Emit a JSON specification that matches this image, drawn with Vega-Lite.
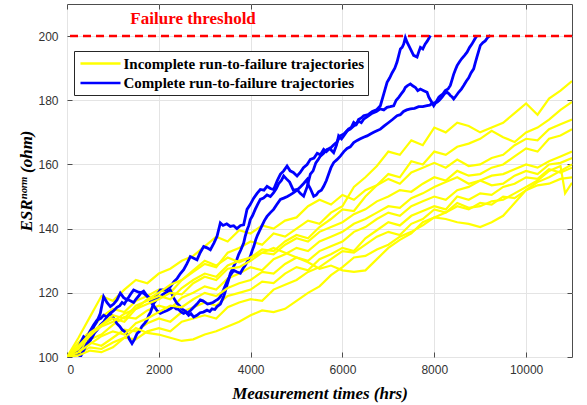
{
"$schema": "https://vega.github.io/schema/vega-lite/v6.json",
"width": 505, "height": 353,
"autosize": "none",
"padding": {"left": 67, "top": 4, "right": 15, "bottom": 48},
"background": "white",
"config": {
 "view": {"stroke": "#4d4d4d", "strokeWidth": 1},
 "axis": {"labelFont": "Liberation Sans", "labelFontSize": 12, "labelColor": "#333333", "domain": false, "gridColor": "#e4e4e4", "gridWidth": 1, "tickColor": "#4d4d4d", "tickSize": -5, "tickWidth": 1, "titleFont": "Liberation Serif", "titleFontSize": 17, "titleFontWeight": "bold", "titleFontStyle": "italic", "titleColor": "#000000", "format": "d"}
},
"datasets": {
"blue": [
{"s":"B1","t":"C","x":0,"y":100},{"s":"B1","t":"C","x":145,"y":101.5},{"s":"B1","t":"C","x":290,"y":103.1},{"s":"B1","t":"C","x":436,"y":106.3},{"s":"B1","t":"C","x":510,"y":105.5},{"s":"B1","t":"C","x":580,"y":109.4},{"s":"B1","t":"C","x":650,"y":111},{"s":"B1","t":"C","x":726,"y":113.6},{"s":"B1","t":"C","x":798,"y":118.8},{"s":"B1","t":"C","x":870,"y":117},{"s":"B1","t":"C","x":944,"y":115.7},{"s":"B1","t":"C","x":1015,"y":116.5},{"s":"B1","t":"C","x":1089,"y":117.8},{"s":"B1","t":"C","x":1161,"y":119.9},{"s":"B1","t":"C","x":1234,"y":118.5},{"s":"B1","t":"C","x":1307,"y":117.8},{"s":"B1","t":"C","x":1380,"y":119.5},{"s":"B1","t":"C","x":1451,"y":120.9},{"s":"B1","t":"C","x":1560,"y":120.2},{"s":"B1","t":"C","x":1669,"y":119.9},{"s":"B1","t":"C","x":1780,"y":118.5},{"s":"B1","t":"C","x":1887,"y":117.8},{"s":"B1","t":"C","x":1960,"y":119.5},{"s":"B1","t":"C","x":2033,"y":120.9},{"s":"B1","t":"C","x":2150,"y":121},{"s":"B1","t":"C","x":2250,"y":121.9},{"s":"B1","t":"C","x":2330,"y":123.5},{"s":"B1","t":"C","x":2400,"y":124.5},{"s":"B1","t":"C","x":2470,"y":126},{"s":"B1","t":"C","x":2541,"y":127.2},{"s":"B1","t":"C","x":2610,"y":129},{"s":"B1","t":"C","x":2686,"y":131.3},{"s":"B1","t":"C","x":2760,"y":130.8},{"s":"B1","t":"C","x":2832,"y":130.3},{"s":"B1","t":"C","x":2900,"y":132.5},{"s":"B1","t":"C","x":2977,"y":134.4},{"s":"B1","t":"C","x":3050,"y":134},{"s":"B1","t":"C","x":3122,"y":133.4},{"s":"B1","t":"C","x":3200,"y":135.5},{"s":"B1","t":"C","x":3268,"y":137.6},{"s":"B1","t":"C","x":3340,"y":141.8},{"s":"B1","t":"C","x":3400,"y":141},{"s":"B1","t":"C","x":3480,"y":141.5},{"s":"B1","t":"C","x":3558,"y":140.7},{"s":"B1","t":"C","x":3630,"y":140.9},{"s":"B1","t":"C","x":3700,"y":140},{"s":"B1","t":"C","x":3780,"y":141},{"s":"B1","t":"C","x":3848,"y":141.2},{"s":"B1","t":"C","x":3921,"y":146},{"s":"B1","t":"C","x":3990,"y":147.5},{"s":"B1","t":"C","x":4066,"y":149.5},{"s":"B1","t":"C","x":4140,"y":151},{"s":"B1","t":"C","x":4211,"y":152.2},{"s":"B1","t":"C","x":4290,"y":152},{"s":"B1","t":"C","x":4357,"y":153.2},{"s":"B1","t":"C","x":4430,"y":152.5},{"s":"B1","t":"C","x":4501,"y":152.2},{"s":"B1","t":"C","x":4580,"y":155},{"s":"B1","t":"C","x":4650,"y":157},{"s":"B1","t":"C","x":4720,"y":158},{"s":"B1","t":"C","x":4793,"y":159.5},{"s":"B1","t":"C","x":4860,"y":158},{"s":"B1","t":"C","x":4930,"y":157.5},{"s":"B1","t":"C","x":5011,"y":156.4},{"s":"B1","t":"C","x":5080,"y":157.5},{"s":"B1","t":"C","x":5150,"y":159},{"s":"B1","t":"C","x":5230,"y":160},{"s":"B1","t":"C","x":5301,"y":161.6},{"s":"B1","t":"C","x":5380,"y":162},{"s":"B1","t":"C","x":5450,"y":163.5},{"s":"B1","t":"C","x":5520,"y":163},{"s":"B1","t":"C","x":5591,"y":164.7},{"s":"B1","t":"C","x":5650,"y":164},{"s":"B1","t":"C","x":5720,"y":165},{"s":"B1","t":"C","x":5809,"y":163.7},{"s":"B1","t":"C","x":5870,"y":166},{"s":"B1","t":"C","x":5917,"y":168.9},{"s":"B1","t":"C","x":5980,"y":168},{"s":"B1","t":"C","x":6027,"y":168.9},{"s":"B1","t":"C","x":6080,"y":170},{"s":"B1","t":"C","x":6130,"y":171},{"s":"B1","t":"C","x":6190,"y":171.5},{"s":"B1","t":"C","x":6245,"y":173.1},{"s":"B1","t":"C","x":6300,"y":172.5},{"s":"B1","t":"C","x":6350,"y":174},{"s":"B1","t":"C","x":6410,"y":174.5},{"s":"B1","t":"C","x":6462,"y":175.2},{"s":"B1","t":"C","x":6560,"y":175.5},{"s":"B1","t":"C","x":6650,"y":176.5},{"s":"B1","t":"C","x":6740,"y":177},{"s":"B1","t":"C","x":6826,"y":178.3},{"s":"B1","t":"C","x":6900,"y":182},{"s":"B1","t":"C","x":6972,"y":185.6},{"s":"B1","t":"C","x":7030,"y":187},{"s":"B1","t":"C","x":7080,"y":188.5},{"s":"B1","t":"C","x":7140,"y":190},{"s":"B1","t":"C","x":7189,"y":191.9},{"s":"B1","t":"C","x":7262,"y":196},{"s":"B1","t":"C","x":7300,"y":196.5},{"s":"B1","t":"C","x":7334,"y":197.5},{"s":"B1","t":"C","x":7370,"y":199.5},{"s":"B1","t":"C","x":7407,"y":198.1},{"s":"B1","t":"C","x":7445,"y":197},{"s":"B1","t":"C","x":7480,"y":196},{"s":"B1","t":"C","x":7550,"y":194},{"s":"B1","t":"C","x":7625,"y":193.5},{"s":"B1","t":"C","x":7660,"y":195},{"s":"B1","t":"C","x":7698,"y":196.5},{"s":"B1","t":"C","x":7750,"y":196},{"s":"B1","t":"C","x":7800,"y":197.5},{"s":"B1","t":"C","x":7850,"y":198.5},{"s":"B1","t":"C","x":7916,"y":200.2},
{"s":"B2","t":"C","x":0,"y":100},{"s":"B2","t":"C","x":145,"y":100.2},{"s":"B2","t":"C","x":250,"y":103},{"s":"B2","t":"C","x":362,"y":106.3},{"s":"B2","t":"C","x":430,"y":105.5},{"s":"B2","t":"C","x":500,"y":108},{"s":"B2","t":"C","x":580,"y":110},{"s":"B2","t":"C","x":654,"y":111.5},{"s":"B2","t":"C","x":730,"y":112},{"s":"B2","t":"C","x":800,"y":113},{"s":"B2","t":"C","x":870,"y":112.5},{"s":"B2","t":"C","x":944,"y":113.6},{"s":"B2","t":"C","x":1020,"y":114.5},{"s":"B2","t":"C","x":1089,"y":115.5},{"s":"B2","t":"C","x":1150,"y":116},{"s":"B2","t":"C","x":1200,"y":117},{"s":"B2","t":"C","x":1250,"y":116.5},{"s":"B2","t":"C","x":1307,"y":118},{"s":"B2","t":"C","x":1380,"y":117.5},{"s":"B2","t":"C","x":1451,"y":117},{"s":"B2","t":"C","x":1500,"y":118},{"s":"B2","t":"C","x":1560,"y":119},{"s":"B2","t":"C","x":1610,"y":120},{"s":"B2","t":"C","x":1669,"y":120.5},{"s":"B2","t":"C","x":1720,"y":119.5},{"s":"B2","t":"C","x":1780,"y":118.5},{"s":"B2","t":"C","x":1830,"y":117},{"s":"B2","t":"C","x":1887,"y":116},{"s":"B2","t":"C","x":1960,"y":114.5},{"s":"B2","t":"C","x":2033,"y":113.6},{"s":"B2","t":"C","x":2100,"y":114},{"s":"B2","t":"C","x":2180,"y":114.5},{"s":"B2","t":"C","x":2250,"y":115},{"s":"B2","t":"C","x":2323,"y":115.7},{"s":"B2","t":"C","x":2380,"y":115},{"s":"B2","t":"C","x":2430,"y":114.8},{"s":"B2","t":"C","x":2490,"y":114},{"s":"B2","t":"C","x":2541,"y":113.6},{"s":"B2","t":"C","x":2600,"y":114},{"s":"B2","t":"C","x":2650,"y":113},{"s":"B2","t":"C","x":2700,"y":113.5},{"s":"B2","t":"C","x":2759,"y":112.5},{"s":"B2","t":"C","x":2830,"y":113},{"s":"B2","t":"C","x":2900,"y":113.8},{"s":"B2","t":"C","x":2970,"y":114},{"s":"B2","t":"C","x":3050,"y":114.6},{"s":"B2","t":"C","x":3110,"y":114.2},{"s":"B2","t":"C","x":3160,"y":115},{"s":"B2","t":"C","x":3220,"y":114.8},{"s":"B2","t":"C","x":3268,"y":115.7},{"s":"B2","t":"C","x":3340,"y":116.5},{"s":"B2","t":"C","x":3412,"y":118.8},{"s":"B2","t":"C","x":3450,"y":120.5},{"s":"B2","t":"C","x":3486,"y":122.5},{"s":"B2","t":"C","x":3520,"y":124},{"s":"B2","t":"C","x":3558,"y":126.1},{"s":"B2","t":"C","x":3590,"y":127},{"s":"B2","t":"C","x":3630,"y":128.2},{"s":"B2","t":"C","x":3690,"y":130},{"s":"B2","t":"C","x":3740,"y":132},{"s":"B2","t":"C","x":3790,"y":133.5},{"s":"B2","t":"C","x":3848,"y":135.5},{"s":"B2","t":"C","x":3880,"y":137.5},{"s":"B2","t":"C","x":3920,"y":139.5},{"s":"B2","t":"C","x":3960,"y":141},{"s":"B2","t":"C","x":3993,"y":142.8},{"s":"B2","t":"C","x":4040,"y":144},{"s":"B2","t":"C","x":4100,"y":146},{"s":"B2","t":"C","x":4150,"y":147.5},{"s":"B2","t":"C","x":4211,"y":149.1},{"s":"B2","t":"C","x":4280,"y":149.5},{"s":"B2","t":"C","x":4357,"y":150.5},{"s":"B2","t":"C","x":4430,"y":150},{"s":"B2","t":"C","x":4501,"y":151.2},{"s":"B2","t":"C","x":4560,"y":152.5},{"s":"B2","t":"C","x":4610,"y":154},{"s":"B2","t":"C","x":4670,"y":155},{"s":"B2","t":"C","x":4720,"y":156.4},{"s":"B2","t":"C","x":4780,"y":155.5},{"s":"B2","t":"C","x":4850,"y":154.5},{"s":"B2","t":"C","x":4930,"y":152},{"s":"B2","t":"C","x":5011,"y":152.2},{"s":"B2","t":"C","x":5080,"y":151},{"s":"B2","t":"C","x":5155,"y":150.1},{"s":"B2","t":"C","x":5230,"y":153},{"s":"B2","t":"C","x":5301,"y":157},{"s":"B2","t":"C","x":5360,"y":158},{"s":"B2","t":"C","x":5420,"y":160.5},{"s":"B2","t":"C","x":5470,"y":161.5},{"s":"B2","t":"C","x":5519,"y":162.6},{"s":"B2","t":"C","x":5590,"y":163.5},{"s":"B2","t":"C","x":5664,"y":164.7},{"s":"B2","t":"C","x":5730,"y":165},{"s":"B2","t":"C","x":5800,"y":166},{"s":"B2","t":"C","x":5880,"y":167},{"s":"B2","t":"C","x":5954,"y":168.9},{"s":"B2","t":"C","x":6030,"y":169.5},{"s":"B2","t":"C","x":6100,"y":170.5},{"s":"B2","t":"C","x":6170,"y":171},{"s":"B2","t":"C","x":6245,"y":172},{"s":"B2","t":"C","x":6300,"y":172.5},{"s":"B2","t":"C","x":6350,"y":173.5},{"s":"B2","t":"C","x":6410,"y":173},{"s":"B2","t":"C","x":6462,"y":174.1},{"s":"B2","t":"C","x":6550,"y":175},{"s":"B2","t":"C","x":6650,"y":176},{"s":"B2","t":"C","x":6740,"y":176.5},{"s":"B2","t":"C","x":6826,"y":177.3},{"s":"B2","t":"C","x":6900,"y":177},{"s":"B2","t":"C","x":6970,"y":177.8},{"s":"B2","t":"C","x":7040,"y":178},{"s":"B2","t":"C","x":7116,"y":178.3},{"s":"B2","t":"C","x":7170,"y":180},{"s":"B2","t":"C","x":7230,"y":181},{"s":"B2","t":"C","x":7280,"y":182},{"s":"B2","t":"C","x":7334,"y":183},{"s":"B2","t":"C","x":7370,"y":184},{"s":"B2","t":"C","x":7410,"y":184.5},{"s":"B2","t":"C","x":7480,"y":185.1},{"s":"B2","t":"C","x":7530,"y":184.5},{"s":"B2","t":"C","x":7590,"y":184},{"s":"B2","t":"C","x":7640,"y":183},{"s":"B2","t":"C","x":7698,"y":183.5},{"s":"B2","t":"C","x":7770,"y":183},{"s":"B2","t":"C","x":7843,"y":182.5},{"s":"B2","t":"C","x":7880,"y":181},{"s":"B2","t":"C","x":7920,"y":180},{"s":"B2","t":"C","x":7988,"y":178.3},{"s":"B2","t":"C","x":8020,"y":179},{"s":"B2","t":"C","x":8061,"y":180},{"s":"B2","t":"C","x":8100,"y":181},{"s":"B2","t":"C","x":8132,"y":181.4},{"s":"B2","t":"C","x":8190,"y":182},{"s":"B2","t":"C","x":8240,"y":183},{"s":"B2","t":"C","x":8300,"y":183.5},{"s":"B2","t":"C","x":8350,"y":184.6},{"s":"B2","t":"C","x":8390,"y":186.5},{"s":"B2","t":"C","x":8420,"y":188},{"s":"B2","t":"C","x":8460,"y":189.5},{"s":"B2","t":"C","x":8497,"y":190.8},{"s":"B2","t":"C","x":8550,"y":192},{"s":"B2","t":"C","x":8600,"y":193},{"s":"B2","t":"C","x":8660,"y":194},{"s":"B2","t":"C","x":8714,"y":195},{"s":"B2","t":"C","x":8770,"y":196.5},{"s":"B2","t":"C","x":8820,"y":197.5},{"s":"B2","t":"C","x":8880,"y":199},{"s":"B2","t":"C","x":8932,"y":200.2},
{"s":"B3","t":"C","x":0,"y":100},{"s":"B3","t":"C","x":145,"y":100.5},{"s":"B3","t":"C","x":220,"y":101.5},{"s":"B3","t":"C","x":290,"y":100},{"s":"B3","t":"C","x":360,"y":102},{"s":"B3","t":"C","x":436,"y":104.2},{"s":"B3","t":"C","x":490,"y":105},{"s":"B3","t":"C","x":545,"y":106},{"s":"B3","t":"C","x":600,"y":107.5},{"s":"B3","t":"C","x":654,"y":108.4},{"s":"B3","t":"C","x":730,"y":110},{"s":"B3","t":"C","x":800,"y":111},{"s":"B3","t":"C","x":870,"y":112.5},{"s":"B3","t":"C","x":944,"y":113.6},{"s":"B3","t":"C","x":1020,"y":112},{"s":"B3","t":"C","x":1089,"y":110.4},{"s":"B3","t":"C","x":1150,"y":109.5},{"s":"B3","t":"C","x":1200,"y":108.5},{"s":"B3","t":"C","x":1250,"y":108},{"s":"B3","t":"C","x":1307,"y":107.3},{"s":"B3","t":"C","x":1360,"y":105.5},{"s":"B3","t":"C","x":1416,"y":104.2},{"s":"B3","t":"C","x":1470,"y":105.5},{"s":"B3","t":"C","x":1525,"y":107.3},{"s":"B3","t":"C","x":1580,"y":108},{"s":"B3","t":"C","x":1630,"y":109.5},{"s":"B3","t":"C","x":1690,"y":110.5},{"s":"B3","t":"C","x":1743,"y":111.5},{"s":"B3","t":"C","x":1780,"y":113},{"s":"B3","t":"C","x":1820,"y":114},{"s":"B3","t":"C","x":1887,"y":116.7},{"s":"B3","t":"C","x":1960,"y":118},{"s":"B3","t":"C","x":2033,"y":118.8},{"s":"B3","t":"C","x":2090,"y":119.5},{"s":"B3","t":"C","x":2140,"y":120},{"s":"B3","t":"C","x":2200,"y":120.5},{"s":"B3","t":"C","x":2250,"y":120.9},{"s":"B3","t":"C","x":2290,"y":119.5},{"s":"B3","t":"C","x":2320,"y":118.5},{"s":"B3","t":"C","x":2396,"y":116.7},{"s":"B3","t":"C","x":2450,"y":116},{"s":"B3","t":"C","x":2500,"y":115},{"s":"B3","t":"C","x":2560,"y":114.5},{"s":"B3","t":"C","x":2614,"y":113.6},{"s":"B3","t":"C","x":2690,"y":114.5},{"s":"B3","t":"C","x":2760,"y":115.5},{"s":"B3","t":"C","x":2830,"y":116.5},{"s":"B3","t":"C","x":2904,"y":117.8},{"s":"B3","t":"C","x":2960,"y":117.5},{"s":"B3","t":"C","x":3010,"y":117},{"s":"B3","t":"C","x":3060,"y":116.5},{"s":"B3","t":"C","x":3122,"y":116.7},{"s":"B3","t":"C","x":3180,"y":117},{"s":"B3","t":"C","x":3230,"y":117.5},{"s":"B3","t":"C","x":3290,"y":118},{"s":"B3","t":"C","x":3340,"y":118.8},{"s":"B3","t":"C","x":3412,"y":121},{"s":"B3","t":"C","x":3486,"y":123.5},{"s":"B3","t":"C","x":3558,"y":125.5},{"s":"B3","t":"C","x":3630,"y":127},{"s":"B3","t":"C","x":3704,"y":126.5},{"s":"B3","t":"C","x":3776,"y":126.1},{"s":"B3","t":"C","x":3830,"y":127.5},{"s":"B3","t":"C","x":3880,"y":128.5},{"s":"B3","t":"C","x":3940,"y":130},{"s":"B3","t":"C","x":3993,"y":131.3},{"s":"B3","t":"C","x":4030,"y":133},{"s":"B3","t":"C","x":4070,"y":134.5},{"s":"B3","t":"C","x":4110,"y":136.5},{"s":"B3","t":"C","x":4150,"y":138},{"s":"B3","t":"C","x":4200,"y":139.5},{"s":"B3","t":"C","x":4250,"y":141},{"s":"B3","t":"C","x":4300,"y":142.5},{"s":"B3","t":"C","x":4357,"y":143.8},{"s":"B3","t":"C","x":4430,"y":145},{"s":"B3","t":"C","x":4500,"y":146},{"s":"B3","t":"C","x":4570,"y":147.5},{"s":"B3","t":"C","x":4648,"y":149.1},{"s":"B3","t":"C","x":4720,"y":149.5},{"s":"B3","t":"C","x":4800,"y":150},{"s":"B3","t":"C","x":4870,"y":150.6},{"s":"B3","t":"C","x":4937,"y":151.2},{"s":"B3","t":"C","x":5010,"y":152},{"s":"B3","t":"C","x":5083,"y":153},{"s":"B3","t":"C","x":5150,"y":154},{"s":"B3","t":"C","x":5229,"y":155.3},{"s":"B3","t":"C","x":5260,"y":153.5},{"s":"B3","t":"C","x":5300,"y":152.5},{"s":"B3","t":"C","x":5374,"y":150.1},{"s":"B3","t":"C","x":5430,"y":150.5},{"s":"B3","t":"C","x":5480,"y":151.5},{"s":"B3","t":"C","x":5540,"y":152},{"s":"B3","t":"C","x":5591,"y":153.2},{"s":"B3","t":"C","x":5650,"y":155},{"s":"B3","t":"C","x":5700,"y":157},{"s":"B3","t":"C","x":5750,"y":159},{"s":"B3","t":"C","x":5809,"y":160.6},{"s":"B3","t":"C","x":5880,"y":161.5},{"s":"B3","t":"C","x":5954,"y":162.6},{"s":"B3","t":"C","x":6030,"y":164},{"s":"B3","t":"C","x":6100,"y":165},{"s":"B3","t":"C","x":6170,"y":165.5},{"s":"B3","t":"C","x":6245,"y":166.8},{"s":"B3","t":"C","x":6320,"y":167.5},{"s":"B3","t":"C","x":6390,"y":168},{"s":"B3","t":"C","x":6460,"y":168.5},{"s":"B3","t":"C","x":6536,"y":168.9},{"s":"B3","t":"C","x":6610,"y":169.5},{"s":"B3","t":"C","x":6680,"y":170},{"s":"B3","t":"C","x":6750,"y":170.5},{"s":"B3","t":"C","x":6826,"y":171},{"s":"B3","t":"C","x":6910,"y":172},{"s":"B3","t":"C","x":7000,"y":173},{"s":"B3","t":"C","x":7090,"y":174},{"s":"B3","t":"C","x":7189,"y":175.2},{"s":"B3","t":"C","x":7260,"y":175.5},{"s":"B3","t":"C","x":7330,"y":176.5},{"s":"B3","t":"C","x":7400,"y":177},{"s":"B3","t":"C","x":7480,"y":177.3},{"s":"B3","t":"C","x":7570,"y":177.5},{"s":"B3","t":"C","x":7660,"y":178},{"s":"B3","t":"C","x":7750,"y":178},{"s":"B3","t":"C","x":7843,"y":178.3},{"s":"B3","t":"C","x":7900,"y":178.5},{"s":"B3","t":"C","x":7950,"y":179},{"s":"B3","t":"C","x":8000,"y":179.2},{"s":"B3","t":"C","x":8061,"y":179.4},{"s":"B3","t":"C","x":8110,"y":180},{"s":"B3","t":"C","x":8170,"y":181},{"s":"B3","t":"C","x":8220,"y":182},{"s":"B3","t":"C","x":8279,"y":182.5},{"s":"B3","t":"C","x":8320,"y":182},{"s":"B3","t":"C","x":8350,"y":181.5},{"s":"B3","t":"C","x":8390,"y":181},{"s":"B3","t":"C","x":8423,"y":180.4},{"s":"B3","t":"C","x":8480,"y":181.5},{"s":"B3","t":"C","x":8530,"y":182.5},{"s":"B3","t":"C","x":8590,"y":183.5},{"s":"B3","t":"C","x":8641,"y":184.6},{"s":"B3","t":"C","x":8700,"y":186},{"s":"B3","t":"C","x":8750,"y":187},{"s":"B3","t":"C","x":8800,"y":188.5},{"s":"B3","t":"C","x":8858,"y":189.8},{"s":"B3","t":"C","x":8890,"y":191.5},{"s":"B3","t":"C","x":8930,"y":193.5},{"s":"B3","t":"C","x":8970,"y":195.5},{"s":"B3","t":"C","x":9004,"y":197.1},{"s":"B3","t":"C","x":9060,"y":198},{"s":"B3","t":"C","x":9110,"y":198.5},{"s":"B3","t":"C","x":9160,"y":199.5},{"s":"B3","t":"C","x":9222,"y":200.2}
],
"yA": [
{"s":"Y1","t":"I","x":0,"y":100},{"s":"Y1","t":"I","x":250,"y":104.5},{"s":"Y1","t":"I","x":500,"y":108},{"s":"Y1","t":"I","x":750,"y":112.5},{"s":"Y1","t":"I","x":1000,"y":115},{"s":"Y1","t":"I","x":1250,"y":114},{"s":"Y1","t":"I","x":1500,"y":117.5},{"s":"Y1","t":"I","x":1750,"y":119},{"s":"Y1","t":"I","x":2000,"y":121},{"s":"Y1","t":"I","x":2250,"y":120},{"s":"Y1","t":"I","x":2500,"y":124},{"s":"Y1","t":"I","x":2750,"y":126.5},{"s":"Y1","t":"I","x":3000,"y":129},{"s":"Y1","t":"I","x":3250,"y":128},{"s":"Y1","t":"I","x":3500,"y":132.5},{"s":"Y1","t":"I","x":3750,"y":134},{"s":"Y1","t":"I","x":4000,"y":136},{"s":"Y1","t":"I","x":4250,"y":135},{"s":"Y1","t":"I","x":4500,"y":138.5},{"s":"Y1","t":"I","x":4750,"y":137.5},{"s":"Y1","t":"I","x":5000,"y":140},{"s":"Y1","t":"I","x":5250,"y":142.5},{"s":"Y1","t":"I","x":5500,"y":141.5},{"s":"Y1","t":"I","x":5750,"y":145},{"s":"Y1","t":"I","x":6000,"y":147},{"s":"Y1","t":"I","x":6250,"y":153},{"s":"Y1","t":"I","x":6500,"y":156},{"s":"Y1","t":"I","x":6750,"y":159.5},{"s":"Y1","t":"I","x":7000,"y":164},{"s":"Y1","t":"I","x":7250,"y":163},{"s":"Y1","t":"I","x":7500,"y":167.5},{"s":"Y1","t":"I","x":7750,"y":166},{"s":"Y1","t":"I","x":8000,"y":171.5},{"s":"Y1","t":"I","x":8250,"y":170},{"s":"Y1","t":"I","x":8500,"y":173},{"s":"Y1","t":"I","x":8750,"y":172},{"s":"Y1","t":"I","x":9000,"y":170},{"s":"Y1","t":"I","x":9250,"y":171.5},{"s":"Y1","t":"I","x":9500,"y":173},{"s":"Y1","t":"I","x":9750,"y":176},{"s":"Y1","t":"I","x":10000,"y":179},{"s":"Y1","t":"I","x":10250,"y":175.5},{"s":"Y1","t":"I","x":10500,"y":180.5},{"s":"Y1","t":"I","x":10750,"y":183},{"s":"Y1","t":"I","x":11000,"y":186},
{"s":"Y3","t":"I","x":0,"y":100},{"s":"Y3","t":"I","x":250,"y":106},{"s":"Y3","t":"I","x":500,"y":112.5},{"s":"Y3","t":"I","x":750,"y":119},{"s":"Y3","t":"I","x":1000,"y":117.5},{"s":"Y3","t":"I","x":1250,"y":121},{"s":"Y3","t":"I","x":1500,"y":124},{"s":"Y3","t":"I","x":1750,"y":123},{"s":"Y3","t":"I","x":2000,"y":126},{"s":"Y3","t":"I","x":2250,"y":127.5},{"s":"Y3","t":"I","x":2500,"y":130},{"s":"Y3","t":"I","x":2750,"y":131.5},{"s":"Y3","t":"I","x":3000,"y":134.5},{"s":"Y3","t":"I","x":3250,"y":137.5},{"s":"Y3","t":"I","x":3500,"y":136},{"s":"Y3","t":"I","x":3750,"y":139.5},{"s":"Y3","t":"I","x":4000,"y":138.5},{"s":"Y3","t":"I","x":4250,"y":141},{"s":"Y3","t":"I","x":4500,"y":140},{"s":"Y3","t":"I","x":4750,"y":142.5},{"s":"Y3","t":"I","x":5000,"y":143.5},{"s":"Y3","t":"I","x":5250,"y":147},{"s":"Y3","t":"I","x":5500,"y":149},{"s":"Y3","t":"I","x":5750,"y":147.5},{"s":"Y3","t":"I","x":6000,"y":150.5},{"s":"Y3","t":"I","x":6250,"y":149},{"s":"Y3","t":"I","x":6500,"y":152},{"s":"Y3","t":"I","x":6750,"y":153.5},{"s":"Y3","t":"I","x":7000,"y":155.5},{"s":"Y3","t":"I","x":7250,"y":154},{"s":"Y3","t":"I","x":7500,"y":157.5},{"s":"Y3","t":"I","x":7750,"y":159},{"s":"Y3","t":"I","x":8000,"y":160.5},{"s":"Y3","t":"I","x":8250,"y":159},{"s":"Y3","t":"I","x":8500,"y":161.5},{"s":"Y3","t":"I","x":8750,"y":159.5},{"s":"Y3","t":"I","x":9000,"y":160},{"s":"Y3","t":"I","x":9250,"y":162},{"s":"Y3","t":"I","x":9500,"y":163},{"s":"Y3","t":"I","x":9750,"y":166},{"s":"Y3","t":"I","x":10000,"y":168},{"s":"Y3","t":"I","x":10250,"y":167.5},{"s":"Y3","t":"I","x":10500,"y":171},{"s":"Y3","t":"I","x":10750,"y":172.5},{"s":"Y3","t":"I","x":11000,"y":174},
{"s":"Y5","t":"I","x":0,"y":100},{"s":"Y5","t":"I","x":250,"y":102},{"s":"Y5","t":"I","x":500,"y":105.5},{"s":"Y5","t":"I","x":750,"y":107},{"s":"Y5","t":"I","x":1000,"y":110},{"s":"Y5","t":"I","x":1250,"y":112.5},{"s":"Y5","t":"I","x":1500,"y":112},{"s":"Y5","t":"I","x":1750,"y":114.5},{"s":"Y5","t":"I","x":2000,"y":116},{"s":"Y5","t":"I","x":2250,"y":115},{"s":"Y5","t":"I","x":2500,"y":118.5},{"s":"Y5","t":"I","x":2750,"y":120},{"s":"Y5","t":"I","x":3000,"y":122},{"s":"Y5","t":"I","x":3250,"y":121},{"s":"Y5","t":"I","x":3500,"y":124.5},{"s":"Y5","t":"I","x":3750,"y":126},{"s":"Y5","t":"I","x":4000,"y":128},{"s":"Y5","t":"I","x":4250,"y":127},{"s":"Y5","t":"I","x":4500,"y":130.5},{"s":"Y5","t":"I","x":4750,"y":132},{"s":"Y5","t":"I","x":5000,"y":134},{"s":"Y5","t":"I","x":5250,"y":133},{"s":"Y5","t":"I","x":5500,"y":136},{"s":"Y5","t":"I","x":5750,"y":137.5},{"s":"Y5","t":"I","x":6000,"y":139},{"s":"Y5","t":"I","x":6250,"y":141.5},{"s":"Y5","t":"I","x":6500,"y":143},{"s":"Y5","t":"I","x":6750,"y":145},{"s":"Y5","t":"I","x":7000,"y":147},{"s":"Y5","t":"I","x":7250,"y":146.5},{"s":"Y5","t":"I","x":7500,"y":149.5},{"s":"Y5","t":"I","x":7750,"y":151},{"s":"Y5","t":"I","x":8000,"y":153},{"s":"Y5","t":"I","x":8250,"y":154.5},{"s":"Y5","t":"I","x":8500,"y":156},{"s":"Y5","t":"I","x":8750,"y":154},{"s":"Y5","t":"I","x":9000,"y":155},{"s":"Y5","t":"I","x":9250,"y":156.5},{"s":"Y5","t":"I","x":9500,"y":157},{"s":"Y5","t":"I","x":9750,"y":158.5},{"s":"Y5","t":"I","x":10000,"y":160},{"s":"Y5","t":"I","x":10250,"y":159},{"s":"Y5","t":"I","x":10500,"y":161},{"s":"Y5","t":"I","x":10750,"y":162.5},{"s":"Y5","t":"I","x":11000,"y":164},
{"s":"Y7","t":"I","x":0,"y":100},{"s":"Y7","t":"I","x":250,"y":103},{"s":"Y7","t":"I","x":500,"y":104.5},{"s":"Y7","t":"I","x":750,"y":103.5},{"s":"Y7","t":"I","x":1000,"y":106},{"s":"Y7","t":"I","x":1250,"y":108.5},{"s":"Y7","t":"I","x":1500,"y":108},{"s":"Y7","t":"I","x":1750,"y":110.5},{"s":"Y7","t":"I","x":2000,"y":112},{"s":"Y7","t":"I","x":2250,"y":111},{"s":"Y7","t":"I","x":2500,"y":114},{"s":"Y7","t":"I","x":2750,"y":115.5},{"s":"Y7","t":"I","x":3000,"y":117},{"s":"Y7","t":"I","x":3250,"y":116},{"s":"Y7","t":"I","x":3500,"y":119},{"s":"Y7","t":"I","x":3750,"y":120},{"s":"Y7","t":"I","x":4000,"y":121},{"s":"Y7","t":"I","x":4250,"y":123.5},{"s":"Y7","t":"I","x":4500,"y":123},{"s":"Y7","t":"I","x":4750,"y":126},{"s":"Y7","t":"I","x":5000,"y":128},{"s":"Y7","t":"I","x":5250,"y":127},{"s":"Y7","t":"I","x":5500,"y":130.5},{"s":"Y7","t":"I","x":5750,"y":132},{"s":"Y7","t":"I","x":6000,"y":134},{"s":"Y7","t":"I","x":6250,"y":133},{"s":"Y7","t":"I","x":6500,"y":137},{"s":"Y7","t":"I","x":6750,"y":139.5},{"s":"Y7","t":"I","x":7000,"y":142},{"s":"Y7","t":"I","x":7250,"y":141},{"s":"Y7","t":"I","x":7500,"y":144},{"s":"Y7","t":"I","x":7750,"y":145.5},{"s":"Y7","t":"I","x":8000,"y":147},{"s":"Y7","t":"I","x":8250,"y":146},{"s":"Y7","t":"I","x":8500,"y":150},{"s":"Y7","t":"I","x":8750,"y":149},{"s":"Y7","t":"I","x":9000,"y":151},{"s":"Y7","t":"I","x":9250,"y":150.5},{"s":"Y7","t":"I","x":9500,"y":153},{"s":"Y7","t":"I","x":9750,"y":154},{"s":"Y7","t":"I","x":10000,"y":156},{"s":"Y7","t":"I","x":10250,"y":155.5},{"s":"Y7","t":"I","x":10500,"y":158.5},{"s":"Y7","t":"I","x":10750,"y":157.5},{"s":"Y7","t":"I","x":11000,"y":159},
{"s":"Y9","t":"I","x":0,"y":100},{"s":"Y9","t":"I","x":250,"y":101},{"s":"Y9","t":"I","x":500,"y":103},{"s":"Y9","t":"I","x":750,"y":102.5},{"s":"Y9","t":"I","x":1000,"y":104.5},{"s":"Y9","t":"I","x":1250,"y":106},{"s":"Y9","t":"I","x":1500,"y":105.5},{"s":"Y9","t":"I","x":1750,"y":108},{"s":"Y9","t":"I","x":2000,"y":109},{"s":"Y9","t":"I","x":2250,"y":108},{"s":"Y9","t":"I","x":2500,"y":111},{"s":"Y9","t":"I","x":2750,"y":112},{"s":"Y9","t":"I","x":3000,"y":113},{"s":"Y9","t":"I","x":3250,"y":112},{"s":"Y9","t":"I","x":3500,"y":115.5},{"s":"Y9","t":"I","x":3750,"y":117},{"s":"Y9","t":"I","x":4000,"y":118},{"s":"Y9","t":"I","x":4250,"y":117.5},{"s":"Y9","t":"I","x":4500,"y":121},{"s":"Y9","t":"I","x":4750,"y":122.5},{"s":"Y9","t":"I","x":5000,"y":124},{"s":"Y9","t":"I","x":5250,"y":126.5},{"s":"Y9","t":"I","x":5500,"y":128},{"s":"Y9","t":"I","x":5750,"y":130.5},{"s":"Y9","t":"I","x":6000,"y":133},{"s":"Y9","t":"I","x":6250,"y":132.5},{"s":"Y9","t":"I","x":6500,"y":135},{"s":"Y9","t":"I","x":6750,"y":137.5},{"s":"Y9","t":"I","x":7000,"y":139},{"s":"Y9","t":"I","x":7250,"y":138},{"s":"Y9","t":"I","x":7500,"y":141.5},{"s":"Y9","t":"I","x":7750,"y":143},{"s":"Y9","t":"I","x":8000,"y":146},{"s":"Y9","t":"I","x":8250,"y":145},{"s":"Y9","t":"I","x":8500,"y":148},{"s":"Y9","t":"I","x":8750,"y":146.5},{"s":"Y9","t":"I","x":9000,"y":147},{"s":"Y9","t":"I","x":9250,"y":148.5},{"s":"Y9","t":"I","x":9500,"y":149},{"s":"Y9","t":"I","x":9750,"y":151},{"s":"Y9","t":"I","x":10000,"y":153},{"s":"Y9","t":"I","x":10250,"y":155},{"s":"Y9","t":"I","x":10500,"y":158},{"s":"Y9","t":"I","x":10750,"y":159.5},{"s":"Y9","t":"I","x":10850,"y":151},{"s":"Y9","t":"I","x":11000,"y":154.3}
],
"yB": [
{"s":"Y2","t":"I","x":0,"y":100},{"s":"Y2","t":"I","x":250,"y":102.5},{"s":"Y2","t":"I","x":500,"y":106.5},{"s":"Y2","t":"I","x":750,"y":110},{"s":"Y2","t":"I","x":1000,"y":113},{"s":"Y2","t":"I","x":1250,"y":112},{"s":"Y2","t":"I","x":1500,"y":116},{"s":"Y2","t":"I","x":1750,"y":117.5},{"s":"Y2","t":"I","x":2000,"y":119},{"s":"Y2","t":"I","x":2250,"y":118},{"s":"Y2","t":"I","x":2500,"y":121.5},{"s":"Y2","t":"I","x":2750,"y":124},{"s":"Y2","t":"I","x":3000,"y":126},{"s":"Y2","t":"I","x":3250,"y":125},{"s":"Y2","t":"I","x":3500,"y":128.5},{"s":"Y2","t":"I","x":3750,"y":130},{"s":"Y2","t":"I","x":4000,"y":131},{"s":"Y2","t":"I","x":4250,"y":133.5},{"s":"Y2","t":"I","x":4500,"y":133},{"s":"Y2","t":"I","x":4750,"y":136},{"s":"Y2","t":"I","x":5000,"y":138},{"s":"Y2","t":"I","x":5250,"y":137},{"s":"Y2","t":"I","x":5500,"y":140.5},{"s":"Y2","t":"I","x":5750,"y":143},{"s":"Y2","t":"I","x":6000,"y":146},{"s":"Y2","t":"I","x":6250,"y":145.5},{"s":"Y2","t":"I","x":6500,"y":150},{"s":"Y2","t":"I","x":6750,"y":153.5},{"s":"Y2","t":"I","x":7000,"y":157},{"s":"Y2","t":"I","x":7250,"y":156},{"s":"Y2","t":"I","x":7500,"y":161},{"s":"Y2","t":"I","x":7750,"y":160},{"s":"Y2","t":"I","x":8000,"y":164},{"s":"Y2","t":"I","x":8250,"y":163},{"s":"Y2","t":"I","x":8500,"y":165.5},{"s":"Y2","t":"I","x":8750,"y":166.5},{"s":"Y2","t":"I","x":9000,"y":168},{"s":"Y2","t":"I","x":9250,"y":170.5},{"s":"Y2","t":"I","x":9500,"y":168.5},{"s":"Y2","t":"I","x":9750,"y":167},{"s":"Y2","t":"I","x":10000,"y":170},{"s":"Y2","t":"I","x":10250,"y":171.5},{"s":"Y2","t":"I","x":10500,"y":174},{"s":"Y2","t":"I","x":10750,"y":177},{"s":"Y2","t":"I","x":11000,"y":179.5},
{"s":"Y4","t":"I","x":0,"y":100},{"s":"Y4","t":"I","x":250,"y":103},{"s":"Y4","t":"I","x":500,"y":107.5},{"s":"Y4","t":"I","x":750,"y":110},{"s":"Y4","t":"I","x":1000,"y":112},{"s":"Y4","t":"I","x":1250,"y":111},{"s":"Y4","t":"I","x":1500,"y":115},{"s":"Y4","t":"I","x":1750,"y":116.5},{"s":"Y4","t":"I","x":2000,"y":118},{"s":"Y4","t":"I","x":2250,"y":120},{"s":"Y4","t":"I","x":2500,"y":119.5},{"s":"Y4","t":"I","x":2750,"y":123},{"s":"Y4","t":"I","x":3000,"y":125},{"s":"Y4","t":"I","x":3250,"y":124},{"s":"Y4","t":"I","x":3500,"y":127.5},{"s":"Y4","t":"I","x":3750,"y":128},{"s":"Y4","t":"I","x":4000,"y":130},{"s":"Y4","t":"I","x":4250,"y":132.5},{"s":"Y4","t":"I","x":4500,"y":132},{"s":"Y4","t":"I","x":4750,"y":135},{"s":"Y4","t":"I","x":5000,"y":137},{"s":"Y4","t":"I","x":5250,"y":136},{"s":"Y4","t":"I","x":5500,"y":139},{"s":"Y4","t":"I","x":5750,"y":140.5},{"s":"Y4","t":"I","x":6000,"y":142},{"s":"Y4","t":"I","x":6250,"y":144.5},{"s":"Y4","t":"I","x":6500,"y":146},{"s":"Y4","t":"I","x":6750,"y":148.5},{"s":"Y4","t":"I","x":7000,"y":150},{"s":"Y4","t":"I","x":7250,"y":152},{"s":"Y4","t":"I","x":7500,"y":151.5},{"s":"Y4","t":"I","x":7750,"y":154},{"s":"Y4","t":"I","x":8000,"y":156},{"s":"Y4","t":"I","x":8250,"y":155},{"s":"Y4","t":"I","x":8500,"y":158},{"s":"Y4","t":"I","x":8750,"y":156.5},{"s":"Y4","t":"I","x":9000,"y":157},{"s":"Y4","t":"I","x":9250,"y":159},{"s":"Y4","t":"I","x":9500,"y":160},{"s":"Y4","t":"I","x":9750,"y":162.5},{"s":"Y4","t":"I","x":10000,"y":165},{"s":"Y4","t":"I","x":10250,"y":164},{"s":"Y4","t":"I","x":10500,"y":168},{"s":"Y4","t":"I","x":10750,"y":169},{"s":"Y4","t":"I","x":11000,"y":171},
{"s":"Y6","t":"I","x":0,"y":100},{"s":"Y6","t":"I","x":250,"y":101.5},{"s":"Y6","t":"I","x":500,"y":104},{"s":"Y6","t":"I","x":750,"y":106.5},{"s":"Y6","t":"I","x":1000,"y":108},{"s":"Y6","t":"I","x":1250,"y":107},{"s":"Y6","t":"I","x":1500,"y":110.5},{"s":"Y6","t":"I","x":1750,"y":112},{"s":"Y6","t":"I","x":2000,"y":114},{"s":"Y6","t":"I","x":2250,"y":116},{"s":"Y6","t":"I","x":2500,"y":115.5},{"s":"Y6","t":"I","x":2750,"y":118},{"s":"Y6","t":"I","x":3000,"y":120},{"s":"Y6","t":"I","x":3250,"y":119},{"s":"Y6","t":"I","x":3500,"y":121.5},{"s":"Y6","t":"I","x":3750,"y":123},{"s":"Y6","t":"I","x":4000,"y":124},{"s":"Y6","t":"I","x":4250,"y":126.5},{"s":"Y6","t":"I","x":4500,"y":126},{"s":"Y6","t":"I","x":4750,"y":129},{"s":"Y6","t":"I","x":5000,"y":131},{"s":"Y6","t":"I","x":5250,"y":130},{"s":"Y6","t":"I","x":5500,"y":133},{"s":"Y6","t":"I","x":5750,"y":134.5},{"s":"Y6","t":"I","x":6000,"y":136},{"s":"Y6","t":"I","x":6250,"y":139},{"s":"Y6","t":"I","x":6500,"y":140.5},{"s":"Y6","t":"I","x":6750,"y":143},{"s":"Y6","t":"I","x":7000,"y":145},{"s":"Y6","t":"I","x":7250,"y":144},{"s":"Y6","t":"I","x":7500,"y":147},{"s":"Y6","t":"I","x":7750,"y":148.5},{"s":"Y6","t":"I","x":8000,"y":150},{"s":"Y6","t":"I","x":8250,"y":149},{"s":"Y6","t":"I","x":8500,"y":152},{"s":"Y6","t":"I","x":8750,"y":153},{"s":"Y6","t":"I","x":9000,"y":155},{"s":"Y6","t":"I","x":9250,"y":153.5},{"s":"Y6","t":"I","x":9500,"y":154},{"s":"Y6","t":"I","x":9750,"y":156.5},{"s":"Y6","t":"I","x":10000,"y":158},{"s":"Y6","t":"I","x":10250,"y":157},{"s":"Y6","t":"I","x":10500,"y":160},{"s":"Y6","t":"I","x":10750,"y":160.5},{"s":"Y6","t":"I","x":11000,"y":162},
{"s":"Y8","t":"I","x":0,"y":100},{"s":"Y8","t":"I","x":250,"y":103.5},{"s":"Y8","t":"I","x":500,"y":107},{"s":"Y8","t":"I","x":750,"y":109.5},{"s":"Y8","t":"I","x":1000,"y":111},{"s":"Y8","t":"I","x":1250,"y":113.5},{"s":"Y8","t":"I","x":1500,"y":115},{"s":"Y8","t":"I","x":1750,"y":118},{"s":"Y8","t":"I","x":2000,"y":120},{"s":"Y8","t":"I","x":2250,"y":122.5},{"s":"Y8","t":"I","x":2500,"y":124},{"s":"Y8","t":"I","x":2750,"y":127},{"s":"Y8","t":"I","x":3000,"y":130},{"s":"Y8","t":"I","x":3250,"y":128.5},{"s":"Y8","t":"I","x":3500,"y":131},{"s":"Y8","t":"I","x":3750,"y":129.5},{"s":"Y8","t":"I","x":4000,"y":131},{"s":"Y8","t":"I","x":4250,"y":132.5},{"s":"Y8","t":"I","x":4500,"y":134},{"s":"Y8","t":"I","x":4750,"y":132.5},{"s":"Y8","t":"I","x":5000,"y":131},{"s":"Y8","t":"I","x":5250,"y":129.5},{"s":"Y8","t":"I","x":5500,"y":127.5},{"s":"Y8","t":"I","x":5750,"y":128.5},{"s":"Y8","t":"I","x":6000,"y":127},{"s":"Y8","t":"I","x":6250,"y":126.5},{"s":"Y8","t":"I","x":6500,"y":127},{"s":"Y8","t":"I","x":6750,"y":130.5},{"s":"Y8","t":"I","x":7000,"y":134},{"s":"Y8","t":"I","x":7250,"y":136.5},{"s":"Y8","t":"I","x":7500,"y":138.5},{"s":"Y8","t":"I","x":7750,"y":142},{"s":"Y8","t":"I","x":8000,"y":143.5},{"s":"Y8","t":"I","x":8250,"y":145},{"s":"Y8","t":"I","x":8500,"y":147},{"s":"Y8","t":"I","x":8750,"y":146},{"s":"Y8","t":"I","x":9000,"y":148},{"s":"Y8","t":"I","x":9250,"y":147.5},{"s":"Y8","t":"I","x":9500,"y":150},{"s":"Y8","t":"I","x":9750,"y":149.5},{"s":"Y8","t":"I","x":10000,"y":152},{"s":"Y8","t":"I","x":10250,"y":153.5},{"s":"Y8","t":"I","x":10500,"y":154},{"s":"Y8","t":"I","x":10750,"y":155.5},{"s":"Y8","t":"I","x":11000,"y":156},
{"s":"Y10","t":"I","x":0,"y":100},{"s":"Y10","t":"I","x":250,"y":100.5},{"s":"Y10","t":"I","x":500,"y":102},{"s":"Y10","t":"I","x":750,"y":101.5},{"s":"Y10","t":"I","x":1000,"y":103},{"s":"Y10","t":"I","x":1250,"y":106},{"s":"Y10","t":"I","x":1500,"y":109},{"s":"Y10","t":"I","x":1750,"y":107.5},{"s":"Y10","t":"I","x":2000,"y":107},{"s":"Y10","t":"I","x":2250,"y":106},{"s":"Y10","t":"I","x":2500,"y":105},{"s":"Y10","t":"I","x":2750,"y":105.5},{"s":"Y10","t":"I","x":3000,"y":107},{"s":"Y10","t":"I","x":3250,"y":108},{"s":"Y10","t":"I","x":3500,"y":109.5},{"s":"Y10","t":"I","x":3750,"y":111},{"s":"Y10","t":"I","x":4000,"y":113},{"s":"Y10","t":"I","x":4250,"y":114.5},{"s":"Y10","t":"I","x":4500,"y":114},{"s":"Y10","t":"I","x":4750,"y":115},{"s":"Y10","t":"I","x":5000,"y":117.5},{"s":"Y10","t":"I","x":5250,"y":120},{"s":"Y10","t":"I","x":5500,"y":122},{"s":"Y10","t":"I","x":5750,"y":125.5},{"s":"Y10","t":"I","x":6000,"y":128},{"s":"Y10","t":"I","x":6250,"y":131},{"s":"Y10","t":"I","x":6500,"y":131.5},{"s":"Y10","t":"I","x":6750,"y":133.5},{"s":"Y10","t":"I","x":7000,"y":135},{"s":"Y10","t":"I","x":7250,"y":137.5},{"s":"Y10","t":"I","x":7500,"y":139},{"s":"Y10","t":"I","x":7750,"y":141},{"s":"Y10","t":"I","x":8000,"y":143.5},{"s":"Y10","t":"I","x":8250,"y":143},{"s":"Y10","t":"I","x":8500,"y":142},{"s":"Y10","t":"I","x":8750,"y":141.5},{"s":"Y10","t":"I","x":9000,"y":140.5},{"s":"Y10","t":"I","x":9250,"y":142},{"s":"Y10","t":"I","x":9500,"y":144},{"s":"Y10","t":"I","x":9750,"y":148},{"s":"Y10","t":"I","x":10000,"y":152},{"s":"Y10","t":"I","x":10250,"y":154.5},{"s":"Y10","t":"I","x":10500,"y":156},{"s":"Y10","t":"I","x":10750,"y":158},{"s":"Y10","t":"I","x":11000,"y":160}
]
},
"resolve": {"axis": {"x": "independent", "y": "independent"}},
"layer": [
{
 "data": {"name": "yA"},
 "mark": {"type": "line", "strokeWidth": 2.2, "clip": true},
 "encoding": {
  "x": {"field": "x", "type": "quantitative", "scale": {"domain": [0, 11000], "nice": false, "zero": false},
   "axis": {"orient": "bottom", "values": [0, 2000, 4000, 6000, 8000, 10000], "labelPadding": 12, "title": "Measurement times (hrs)", "titleX": 252.5, "titleY": 41, "titleAlign": "center", "titleBaseline": "alphabetic"}},
  "y": {"field": "y", "type": "quantitative", "scale": {"domain": [100, 210], "nice": false, "zero": false},
   "axis": {"orient": "left", "values": [100, 120, 140, 160, 180, 200], "labelPadding": 14, "title": "ESRⁿᵒʳᵐ (ohm)", "titleX": -36, "titleY": 176.5, "titleAngle": -90, "titleAlign": "center", "titleBaseline": "alphabetic"}},
  "color": {"field": "t", "type": "nominal", "scale": {"domain": ["I", "C"], "range": ["#ffff00", "#0000ff"]},
   "legend": {"orient": "none", "legendX": 7, "legendY": 47, "title": null, "labelExpr": "datum.value == 'I' ? 'Incomplete run-to-failure trajectories' : 'Complete run-to-failure trajectories'", "labelFont": "Liberation Serif", "labelFontSize": 15, "labelFontWeight": "bold", "labelColor": "#000000", "labelLimit": 400, "symbolType": "M-2.86,0H2.86", "symbolSize": 196, "symbolStrokeWidth": 2.5, "symbolOffset": 14, "strokeColor": "#262626", "fillColor": "#ffffff", "padding": 4, "rowPadding": 2.5, "labelOffset": 14.5}},
  "detail": {"field": "s"}
 }
},
{
 "data": {"name": "blue"},
 "mark": {"type": "line", "strokeWidth": 2.8, "clip": true},
 "encoding": {
  "x": {"field": "x", "type": "quantitative", "axis": null},
  "y": {"field": "y", "type": "quantitative", "axis": null},
  "color": {"field": "t", "type": "nominal"},
  "detail": {"field": "s"}
 }
},
{
 "data": {"name": "yB"},
 "mark": {"type": "line", "strokeWidth": 2.2, "clip": true},
 "encoding": {
  "x": {"field": "x", "type": "quantitative", "axis": null},
  "y": {"field": "y", "type": "quantitative", "axis": null},
  "color": {"field": "t", "type": "nominal"},
  "detail": {"field": "s"}
 }
},
{
 "data": {"values": [{"y": 200}]},
 "mark": {"type": "rule", "color": "#ff0000", "strokeWidth": 2.5, "strokeDash": [8, 5]},
 "encoding": {"y": {"field": "y", "type": "quantitative", "axis": null}}
},
{
 "data": {"values": [{"x": 1380, "y": 205.4, "label": "Failure threshold"}]},
 "mark": {"type": "text", "align": "left", "baseline": "middle", "font": "Liberation Serif", "fontSize": 17, "fontWeight": "bold", "color": "#ff0000"},
 "encoding": {
  "x": {"field": "x", "type": "quantitative", "axis": {"orient": "top", "values": [0, 2000, 4000, 6000, 8000, 10000], "labels": false, "grid": false, "title": null}},
  "y": {"field": "y", "type": "quantitative", "axis": {"orient": "right", "values": [100, 120, 140, 160, 180, 200], "labels": false, "grid": false, "title": null}},
  "text": {"field": "label"}
 }
}
]
}
